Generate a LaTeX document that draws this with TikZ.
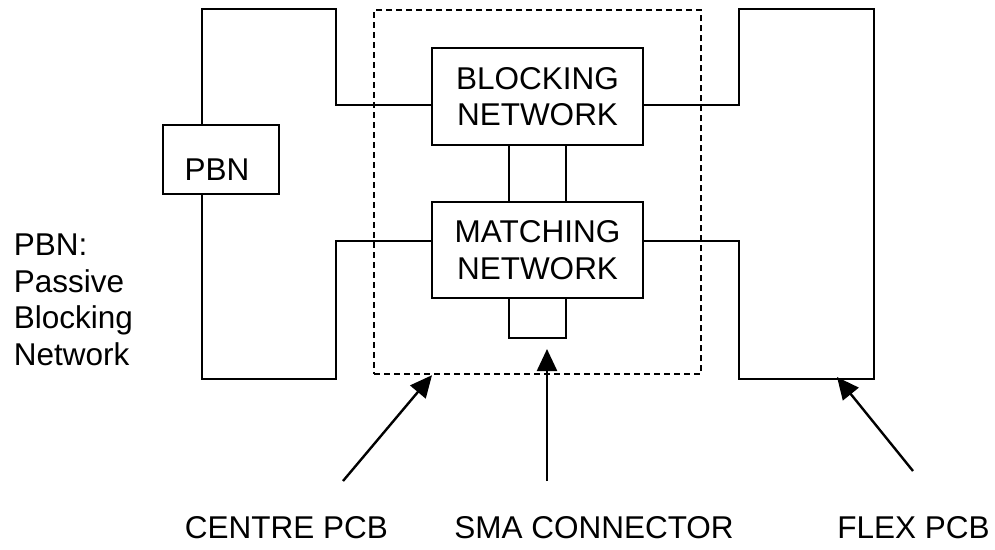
\documentclass[tikz,border=0pt]{standalone}
\usepackage{fontspec}
\setmainfont{Liberation Sans}
\usetikzlibrary{arrows.meta}
\tikzset{
  netbox/.style={draw, align=center, inner sep=0pt, minimum width=211pt},
  ptr/.style={-{Triangle[length=22pt,width=20pt]}}
}
\begin{document}
\begin{tikzpicture}[x=1pt, y=-1pt, line width=2.4pt,
    every node/.style={font=\fontsize{31.5}{36.5}\selectfont}]
    \useasboundingbox (0,0) rectangle (995,549);
    \node [netbox, minimum height=97pt] (blk) at (537.5, 96.5) {BLOCKING\\NETWORK};
    \node [netbox, minimum height=96pt] (mat) at (537.5, 250)  {MATCHING\\NETWORK};
    \node [draw, inner sep=0pt, minimum width=116pt, minimum height=69pt,
           label={[xshift=-4pt, yshift=-10pt]center:PBN}] (pbn) at (221, 159.5) {};
    \node [draw, dashed, dash pattern=on 6pt off 4pt, inner sep=0pt,
           minimum width=327pt, minimum height=364pt] (dbox) at (537.5, 192) {};
    % centre pcb
    \draw ([xshift=-19pt]pbn.north) |- (336, 9) |- ([yshift=-8.5pt]blk.west);
    \draw ([xshift=-19pt]pbn.south) |- (336, 379) |- ([yshift=9pt]mat.west);
    % flex pcb
    \draw ([yshift=-8.5pt]blk.east) -| (739, 9) -| (874, 379) -| (739, 241)
          -- ([yshift=9pt]mat.east);
    % links
    \draw ([xshift=-28.5pt]blk.south) -- ([xshift=-28.5pt]mat.north);
    \draw ([xshift=28.5pt]blk.south) -- ([xshift=28.5pt]mat.north);
    \draw ([xshift=-28.5pt]mat.south) -- ++(0, 39) -| ([xshift=28.5pt]mat.south);
    % labels
    \node [anchor=north west, align=left, inner sep=0pt] (key) at (12.7, 233)
          {PBN:\\Passive\\Blocking\\Network};
    \node [anchor=base, inner sep=0pt] (lc) at (286.5, 538) {CENTRE PCB};
    \node [anchor=base, inner sep=0pt] (ls) at (594, 538)   {SMA CONNECTOR};
    \node [anchor=base, inner sep=0pt] (lf) at (913.5, 538) {FLEX PCB};
    \coordinate (tc) at (343, 481);
    \coordinate (ts) at (547, 481);
    \coordinate (hs) at (547, 349);
    \coordinate (tf) at (913, 471);
    \coordinate (hf) at (837, 377);
    \draw [ptr] (tc) -- ([xshift=-105.5pt]dbox.south);
    \draw [ptr] (ts) -- (hs);
    \draw [ptr] (tf) -- (hf);
\end{tikzpicture}
\end{document}
